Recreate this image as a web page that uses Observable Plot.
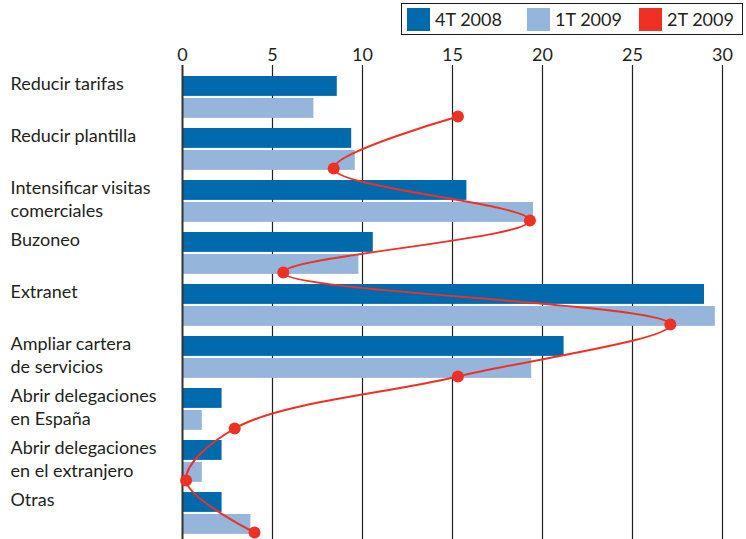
<!DOCTYPE html>
<html><head><meta charset="utf-8">
<script src="https://cdn.jsdelivr.net/npm/d3@7"></script>
<script src="https://cdn.jsdelivr.net/npm/@observablehq/plot@0.6"></script>
<style>
body{margin:0;background:#fff;font-family:Lato,sans-serif;color:#231f20}
#legend{position:relative;width:746px;height:38px}
#legend .box{position:absolute;left:401px;top:3px;width:340px;height:30px;border:1px solid #1a1a1a;box-sizing:content-box}
#legend .sw{position:absolute;top:8px;width:23px;height:23px}
#legend .lb{position:absolute;top:8px;line-height:23px;font-size:18px;white-space:nowrap}
#chart svg{display:block}
</style>
</head><body>
<div id="legend"><div class="box"></div></div>
<div id="chart"></div>
<script>
const categories = ["Reducir tarifas","Reducir plantilla","Intensificar visitas\ncomerciales","Buzoneo","Extranet","Ampliar cartera\nde servicios","Abrir delegaciones\nen España","Abrir delegaciones\nen el extranjero","Otras"];
const seriesNames = ["4T 2008","1T 2009","2T 2009"];
const q4_2008 = [8.6, 9.4, 15.8, 10.6, 29.0, 21.2, 2.2, 2.2, 2.2];
const q1_2009 = [7.3, 9.6, 19.5, 9.8, 29.6, 19.4, 1.1, 1.1, 3.8];
const q2_2009 = [15.3, 8.4, 19.3, 5.6, 27.1, 15.3, 2.9, 0.2, 4.0];
const xTicks = [0, 5, 10, 15, 20, 25, 30];
const colors = ["#006aad", "#95b5da", "#ee3124"];

const rows = categories.map((c, i) => ({cat: c, a: q4_2008[i], b: q1_2009[i], c2: q2_2009[i]}));

// legend
const legendEl = document.getElementById("legend");
const swX = [407, 527, 639], lbX = [435, 555, 667];
seriesNames.forEach((s, i) => {
  const sw = document.createElement("div");
  sw.className = "sw"; sw.style.left = swX[i] + "px"; sw.style.background = colors[i];
  legendEl.appendChild(sw);
  const lb = document.createElement("div");
  lb.className = "lb"; lb.style.left = lbX[i] + "px"; lb.textContent = s;
  legendEl.appendChild(lb);
});

const plotH = 501, plotTop = 32;
const step = (plotH - plotTop) / categories.length;

const chart = Plot.plot({
  width: 746,
  height: plotH,
  marginLeft: 182,
  marginRight: 24,
  marginTop: plotTop,
  marginBottom: 0,
  style: {fontFamily: "Lato, sans-serif", fontSize: "18px", color: "#231f20", background: "#fff"},
  x: {domain: [0, 30], axis: "top", ticks: xTicks, tickSize: 0, tickPadding: 10, label: null},
  y: {type: "band", domain: categories, padding: 0, axis: null},
  marks: [
    Plot.ruleX(xTicks.slice(1), {stroke: "#222", strokeWidth: 1.2, insetTop: -5}),
    Plot.barX(rows, {x: "a", y: "cat", fill: colors[0], insetTop: 5, insetBottom: step - 25}),
    Plot.barX(rows, {x: "b", y: "cat", fill: colors[1], insetTop: 27, insetBottom: step - 47}),
    Plot.ruleX([0], {stroke: "#333", strokeWidth: 2, insetTop: -5}),
    Plot.text(categories, {y: d => d, text: d => d, frameAnchor: "left", textAnchor: "start", lineAnchor: "top", dx: -172, dy: -25, fontSize: 18, lineHeight: 1.33, fill: "#231f20"}),
    Plot.line(rows, {x: "c2", y: "cat", stroke: colors[2], strokeWidth: 2, curve: "catmull-rom", dy: 19}),
    Plot.dot(rows, {x: "c2", y: "cat", r: 6, fill: colors[2], dy: 19})
  ]
});
document.getElementById("chart").appendChild(chart);
</script>
</body></html>
